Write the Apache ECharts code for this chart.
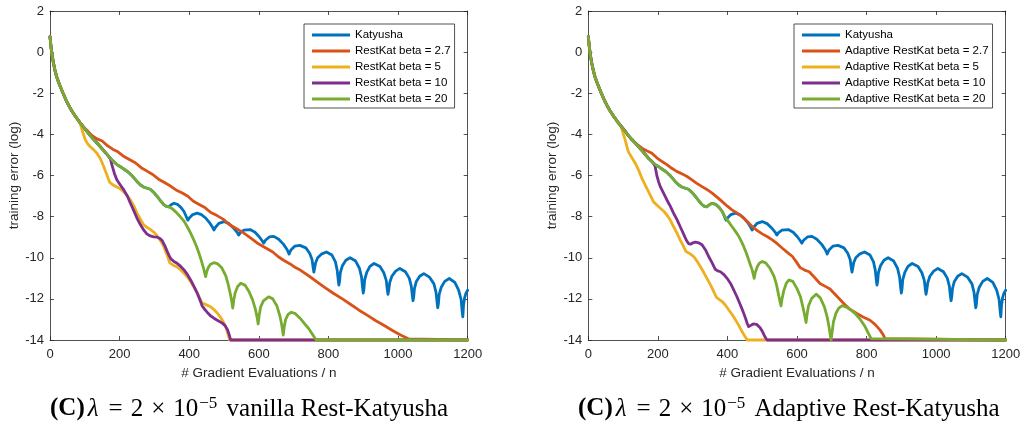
<!DOCTYPE html>
<html><head><meta charset="utf-8">
<script src="https://cdn.jsdelivr.net/npm/echarts@6/dist/echarts.min.js"></script>
<style>html,body{margin:0;padding:0;background:#fff}#c{width:1025px;height:427px}</style>
</head><body><div id="c"></div>
<script>
// ---- data (x = gradient evaluations / n, y = log training error) ----
const head = [[0,0.75],[2,0.4],[4,0.1],[7,-0.25],[10,-0.54],[14,-0.86],[19,-1.19],[25,-1.48],[31,-1.73],[38,-2.02],[46,-2.33],[54,-2.6],[62,-2.84],[70,-3.05],[78,-3.24],[86,-3.43]];

const katyushaTail = [[96,-3.64],[106,-3.86],[115,-4.05],[125,-4.24],[135,-4.42],[144,-4.59],[155,-4.8],[165,-5.0],[173,-5.16],[185,-5.36],[195,-5.5],[205,-5.6],[215,-5.72],[225,-5.84],[235,-6.0],[243,-6.15],[252,-6.33],[260,-6.46],[269,-6.56],[279,-6.62],[288,-6.67],[298,-6.82],[308,-7.02],[318,-7.24],[327,-7.42],[334,-7.5],[341,-7.52],[348,-7.42],[356,-7.35],[366,-7.4],[376,-7.55],[385,-7.75],[391,-7.98],[396,-8.17],[401,-8.05],[410,-7.9],[423,-7.83],[435,-7.9],[448,-8.08],[460,-8.33],[467,-8.52],[471,-8.65],[475,-8.53],[485,-8.33],[500,-8.24],[514,-8.34],[527,-8.55],[537,-8.75],[542,-8.9],[547,-8.78],[557,-8.66],[575,-8.63],[589,-8.76],[601,-8.98],[609,-9.16],[614,-9.29],[619,-9.15],[630,-8.99],[643,-8.96],[657,-9.1],[671,-9.35],[681,-9.6],[687,-9.82],[692,-9.62],[703,-9.44],[718,-9.4],
[735,-9.52],[746,-9.78],[753,-10.1],[756,-10.49],[758,-10.7],[760,-10.53],[763,-10.24],[769,-10.0],[781,-9.81],[794,-9.72],
[810,-9.87],[820,-10.2],[825,-10.6],[828,-11.09],[830,-11.33],[832,-11.13],[834,-10.73],[840,-10.39],[850,-10.12],[862,-10.0],
[878,-10.16],[889,-10.51],[895,-10.94],[898,-11.45],[900,-11.72],[902,-11.5],[904,-11.07],[910,-10.71],[919,-10.42],[931,-10.28],
[948,-10.43],[959,-10.73],[966,-11.1],[969,-11.55],[971,-11.78],[973,-11.58],[976,-11.21],[982,-10.9],[993,-10.65],[1005,-10.52],
[1021,-10.68],[1032,-10.99],[1038,-11.38],[1041,-11.85],[1043,-12.09],[1045,-11.89],[1047,-11.5],[1052,-11.17],[1062,-10.9],[1074,-10.77],
[1090,-10.94],[1103,-11.27],[1109,-11.68],[1112,-12.17],[1114,-12.43],[1116,-12.21],[1118,-11.79],[1124,-11.43],[1134,-11.15],[1147,-11.01],
[1163,-11.2],[1174,-11.57],[1181,-12.03],[1184,-12.59],[1186,-12.87],[1188,-12.3],[1191,-11.95],[1195,-11.72],[1200,-11.58]];

// vanilla Rest-Katyusha (left panel)
const vanilla27Tail = [[96,-3.64],[106,-3.8],[120,-4.05],[135,-4.22],[150,-4.32],[165,-4.55],[180,-4.72],[195,-4.85],[210,-5.05],[228,-5.22],[245,-5.38],[262,-5.62],[280,-5.8],[295,-5.95],[312,-6.18],[330,-6.35],[345,-6.5],[362,-6.7],[380,-6.85],[395,-7.0],[412,-7.25],[430,-7.42],[445,-7.56],[462,-7.8],[480,-7.95],[497,-8.12],[515,-8.38],[535,-8.58],[555,-8.78],[575,-9.02],[595,-9.28],[615,-9.48],[640,-9.72],[656,-9.95],[671,-10.12],[690,-10.3],[705,-10.48],[719,-10.6],[745,-10.9],[767,-11.17],[790,-11.45],[815,-11.74],[840,-12.0],[863,-12.26],[888,-12.55],[911,-12.79],[935,-13.05],[959,-13.28],[985,-13.55],[1007,-13.76],[1022,-13.88],[1031,-13.95],[1036,-14],[1200,-14]];
const vanilla5Tail = [[91,-3.72],[96,-3.98],[101,-4.25],[108,-4.45],[115,-4.59],[125,-4.74],[135,-4.92],[145,-5.2],[154,-5.55],[163,-5.95],[171,-6.32],[180,-6.45],[192,-6.56],[202,-6.65],[212,-6.8],[222,-6.98],[231,-7.19],[241,-7.48],[250,-7.83],[260,-8.13],[268,-8.38],[278,-8.52],[288,-8.62],[298,-8.75],[308,-8.94],[318,-9.18],[327,-9.46],[336,-9.85],[344,-10.25],[354,-10.36],[365,-10.45],[375,-10.58],[385,-10.75],[395,-10.95],[404,-11.16],[414,-11.45],[423,-11.72],[431,-12.0],[437,-12.2],[448,-12.28],[461,-12.38],[471,-12.52],[481,-12.7],[491,-12.92],[500,-13.18],[506,-13.42],[511,-13.7],[516,-14],[1200,-14]];
const vanilla10Split = 173;
const vanilla10Tail = [[178,-5.5],[185,-5.9],[192,-6.21],[202,-6.46],[212,-6.7],[222,-7.0],[231,-7.35],[241,-7.72],[250,-8.08],[260,-8.4],[269,-8.65],[278,-8.84],[288,-8.94],[298,-8.98],[308,-9.0],[316,-9.06],[322,-9.16],[330,-9.42],[337,-9.7],[343,-9.92],[348,-10.07],[356,-10.18],[365,-10.27],[375,-10.41],[385,-10.59],[395,-10.82],[404,-11.08],[414,-11.4],[423,-11.72],[431,-12.07],[437,-12.34],[445,-12.52],[452,-12.66],[461,-12.82],[471,-12.94],[483,-13.06],[495,-13.18],[503,-13.3],[510,-13.5],[515,-13.75],[519,-14],[1200,-14]];
const vanilla20Split = 341;
const vanilla20Tail = [[350,-7.6],[362,-7.78],[375,-8.02],[385,-8.22],[394,-8.48],[404,-8.8],[413,-9.13],[421,-9.45],[428,-9.78],[435,-10.15],[441,-10.5],[444,-10.72],[447,-10.92],[450,-10.7],[454,-10.5],[461,-10.32],[471,-10.24],[482,-10.3],[494,-10.5],[505,-10.88],[512,-11.3],[518,-11.75],[522,-12.1],[525,-12.45],[528,-12.05],[532,-11.7],[539,-11.4],[548,-11.24],[560,-11.33],[572,-11.65],[582,-12.05],[590,-12.5],[595,-12.9],[598,-13.22],[601,-12.8],[605,-12.4],[613,-12.1],[628,-11.9],[640,-12.0],[652,-12.35],[660,-12.8],[665,-13.2],[668,-13.5],[670,-13.76],[673,-13.35],[677,-13.0],[684,-12.75],[693,-12.65],[705,-12.72],[719,-12.95],[731,-13.2],[743,-13.44],[753,-13.7],[760,-13.88],[765,-14],[1200,-14]];

// Adaptive Rest-Katyusha (right panel)
const adaptive27Tail = [[96,-3.64],[106,-3.82],[115,-4.06],[125,-4.27],[140,-4.48],[154,-4.67],[168,-4.8],[183,-4.92],[197,-5.14],[212,-5.32],[226,-5.47],[240,-5.65],[254,-5.8],[269,-5.92],[284,-6.05],[298,-6.21],[312,-6.38],[327,-6.54],[341,-6.68],[356,-6.86],[370,-7.05],[385,-7.27],[399,-7.48],[413,-7.67],[428,-7.83],[442,-8.0],[457,-8.24],[471,-8.48],[486,-8.68],[500,-8.84],[515,-8.98],[529,-9.13],[544,-9.33],[558,-9.54],[573,-9.75],[587,-9.94],[600,-10.25],[609,-10.48],[622,-10.6],[635,-10.68],[650,-10.95],[666,-11.25],[680,-11.38],[695,-11.52],[712,-11.82],[733,-12.2],[752,-12.5],[772,-12.71],[790,-12.88],[810,-13.04],[825,-13.25],[839,-13.52],[848,-13.75],[853,-13.93],[857,-14],[1200,-14]];
const adaptive5Tail = [[91,-3.54],[96,-3.72],[101,-4.0],[106,-4.27],[111,-4.6],[115,-4.84],[125,-5.12],[135,-5.4],[145,-5.75],[154,-6.13],[164,-6.48],[173,-6.78],[181,-7.05],[187,-7.27],[197,-7.43],[207,-7.59],[217,-7.74],[226,-7.92],[236,-8.18],[245,-8.48],[255,-8.8],[264,-9.13],[273,-9.42],[281,-9.7],[292,-9.8],[303,-9.94],[312,-10.15],[322,-10.43],[332,-10.72],[341,-11.0],[349,-11.25],[356,-11.48],[362,-11.7],[368,-11.92],[376,-12.02],[385,-12.13],[395,-12.32],[404,-12.54],[414,-12.77],[423,-13.02],[433,-13.3],[442,-13.59],[450,-13.82],[457,-14],[1200,-14]];
const adaptive10Split = 185;
const adaptive10Tail = [[192,-5.55],[197,-6.0],[202,-6.3],[207,-6.54],[216,-6.85],[226,-7.19],[236,-7.5],[245,-7.83],[255,-8.15],[264,-8.48],[274,-8.85],[282,-9.15],[288,-9.31],[294,-9.34],[300,-9.28],[308,-9.24],[318,-9.28],[327,-9.37],[337,-9.62],[346,-9.94],[356,-10.25],[365,-10.56],[372,-10.64],[380,-10.68],[390,-10.82],[399,-11.0],[409,-11.25],[418,-11.56],[428,-11.92],[437,-12.29],[445,-12.62],[452,-12.94],[457,-13.2],[461,-13.35],[466,-13.32],[474,-13.22],[484,-13.24],[494,-13.4],[501,-13.6],[505,-13.75],[510,-13.9],[514,-14],[1200,-14]];
const adaptive20Split = 385;
const adaptive20Tail = [[392,-7.98],[399,-8.16],[406,-8.32],[413,-8.48],[423,-8.72],[433,-8.97],[440,-9.2],[447,-9.46],[454,-9.76],[461,-10.1],[466,-10.35],[471,-10.59],[474,-10.8],[477,-11.0],[480,-10.72],[486,-10.43],[492,-10.26],[500,-10.18],[510,-10.25],[522,-10.5],[534,-10.91],[541,-11.3],[546,-11.72],[550,-12.05],[554,-12.34],[557,-12.0],[562,-11.6],[569,-11.25],[577,-11.08],[588,-11.15],[600,-11.5],[610,-11.9],[617,-12.4],[622,-12.8],[626,-13.15],[629,-12.75],[633,-12.35],[642,-11.98],[655,-11.77],[667,-11.95],[679,-12.4],[687,-12.9],[692,-13.35],[695,-13.7],[698,-14],[701,-13.6],[705,-13.1],[712,-12.7],[720,-12.45],[730,-12.33],[742,-12.4],[755,-12.55],[767,-12.71],[782,-13.0],[796,-13.36],[806,-13.7],[813,-13.93],[816,-14],[1200,-14]];

const leftNames = ['Katyusha','RestKat beta = 2.7','RestKat beta = 5','RestKat beta = 10','RestKat beta = 20'];
const rightNames = ['Katyusha','Adaptive RestKat beta = 2.7','Adaptive RestKat beta = 5','Adaptive RestKat beta = 10','Adaptive RestKat beta = 20'];
const colors = ['#0072BD','#D95319','#EDB120','#7E2F8E','#77AC30'];

// ---- build ----
const katyusha = head.concat(katyushaTail);
const upTo = (s) => katyusha.filter(p => p[0] <= s);
const leftData = [katyusha, head.concat(vanilla27Tail), head.concat(vanilla5Tail), upTo(vanilla10Split).concat(vanilla10Tail), upTo(vanilla20Split).concat(vanilla20Tail)];
const rightData = [katyusha, head.concat(adaptive27Tail), head.concat(adaptive5Tail), upTo(adaptive10Split).concat(adaptive10Tail), upTo(adaptive20Split).concat(adaptive20Tail)];

const AX = '#262626';
const FONT = 'Liberation Sans';
function xAx(grid, top) {
  return {type:'value', gridIndex:grid, position: top?'top':'bottom', min:0, max:1200, interval:200,
    axisLine:{onZero:false, lineStyle:{color:AX, width:0.8}},
    axisTick:{show:true, inside:true, length:4, lineStyle:{color:AX, width:0.8}},
    axisLabel:{show:!top, color:AX, fontSize:13, fontFamily:FONT, margin:8, formatter:(v)=>String(v)},
    splitLine:{show:false},
    name: top ? '' : '# Gradient Evaluations / n', nameLocation:'middle', nameGap:24,
    nameTextStyle:{color:AX, fontSize:13.5, fontFamily:FONT}};
}
function yAx(grid, right) {
  return {type:'value', gridIndex:grid, position: right?'right':'left', min:-14, max:2, interval:2,
    axisLine:{onZero:false, lineStyle:{color:AX, width:0.8}},
    axisTick:{show:true, inside:true, length:4, lineStyle:{color:AX, width:0.8}},
    axisLabel:{show:!right, color:AX, fontSize:13, fontFamily:FONT, margin:6, formatter:(v)=>String(v)},
    splitLine:{show:false},
    name: right ? '' : 'training error (log)', nameLocation:'middle', nameGap:28, nameRotate:90,
    nameTextStyle:{color:AX, fontSize:13.5, fontFamily:FONT}};
}
function line(name, data, color, xi, yi) {
  return {name, type:'line', data, xAxisIndex:xi, yAxisIndex:yi, showSymbol:false, symbol:'none',
    clip:false, animation:false, color, itemStyle:{color},
    lineStyle:{color, width:2.8, join:'round', cap:'round'}, emphasis:{disabled:true}};
}
function legend(names, left) {
  return {data:names, left, top:24, orient:'vertical', icon:'rect', itemWidth:38, itemHeight:3, itemGap:2,
    padding:[4,4,2,8], backgroundColor:'#fff', borderColor:AX, borderWidth:0.8, borderRadius:0,
    selectedMode:false, textStyle:{color:'#000', fontSize:11.5, fontFamily:FONT, lineHeight:14}};
}
const SERIF = 'Liberation Serif';
const rich = {
  b:{fontFamily:SERIF, fontWeight:'bold', fontSize:25, color:'#000', lineHeight:28, padding:[0,2,0,0]},
  i:{fontFamily:SERIF, fontWeight:'normal', fontStyle:'italic', fontSize:25, color:'#000', lineHeight:28, padding:[0,2,0,1]},
  o:{fontFamily:SERIF, fontWeight:'normal', fontSize:25, color:'#000', lineHeight:28, padding:[0,8,0,8]},
  n:{fontFamily:SERIF, fontWeight:'normal', fontSize:25, color:'#000', lineHeight:28},
  s:{fontFamily:SERIF, fontWeight:'normal', fontSize:17, color:'#000', lineHeight:17, verticalAlign:'top', padding:[0,3,0,1]},
  t:{fontFamily:SERIF, fontWeight:'normal', fontSize:25, color:'#000', lineHeight:28}
};
function caption(word, left) {
  return {text:'{b|(C)}{i|λ}{o|=}{n|2}{o|×}{n|10}{s|−5}{t| ' + word + ' Rest-Katyusha}', left, top:395, padding:0,
    textStyle:{fontWeight:'normal', rich}};
}

const series = [];
leftNames.forEach((n,i) => series.push(line(n, leftData[i], colors[i], 0, 0)));
rightNames.forEach((n,i) => series.push(line(n, rightData[i], colors[i], 2, 2)));

const chart = echarts.init(document.getElementById('c'), null, {renderer:'canvas'});
chart.setOption({
  animation:false,
  backgroundColor:'#fff',
  grid:[{left:50, top:11, width:417.7, height:329}, {left:588.3, top:11, width:417.4, height:329}],
  xAxis:[xAx(0,false), xAx(0,true), xAx(1,false), xAx(1,true)],
  yAxis:[yAx(0,false), yAx(0,true), yAx(1,false), yAx(1,true)],
  legend:[legend(leftNames, 304), legend(rightNames, 794)],
  title:[caption('vanilla', 50), caption('Adaptive', 578)],
  series
});
</script></body></html>
